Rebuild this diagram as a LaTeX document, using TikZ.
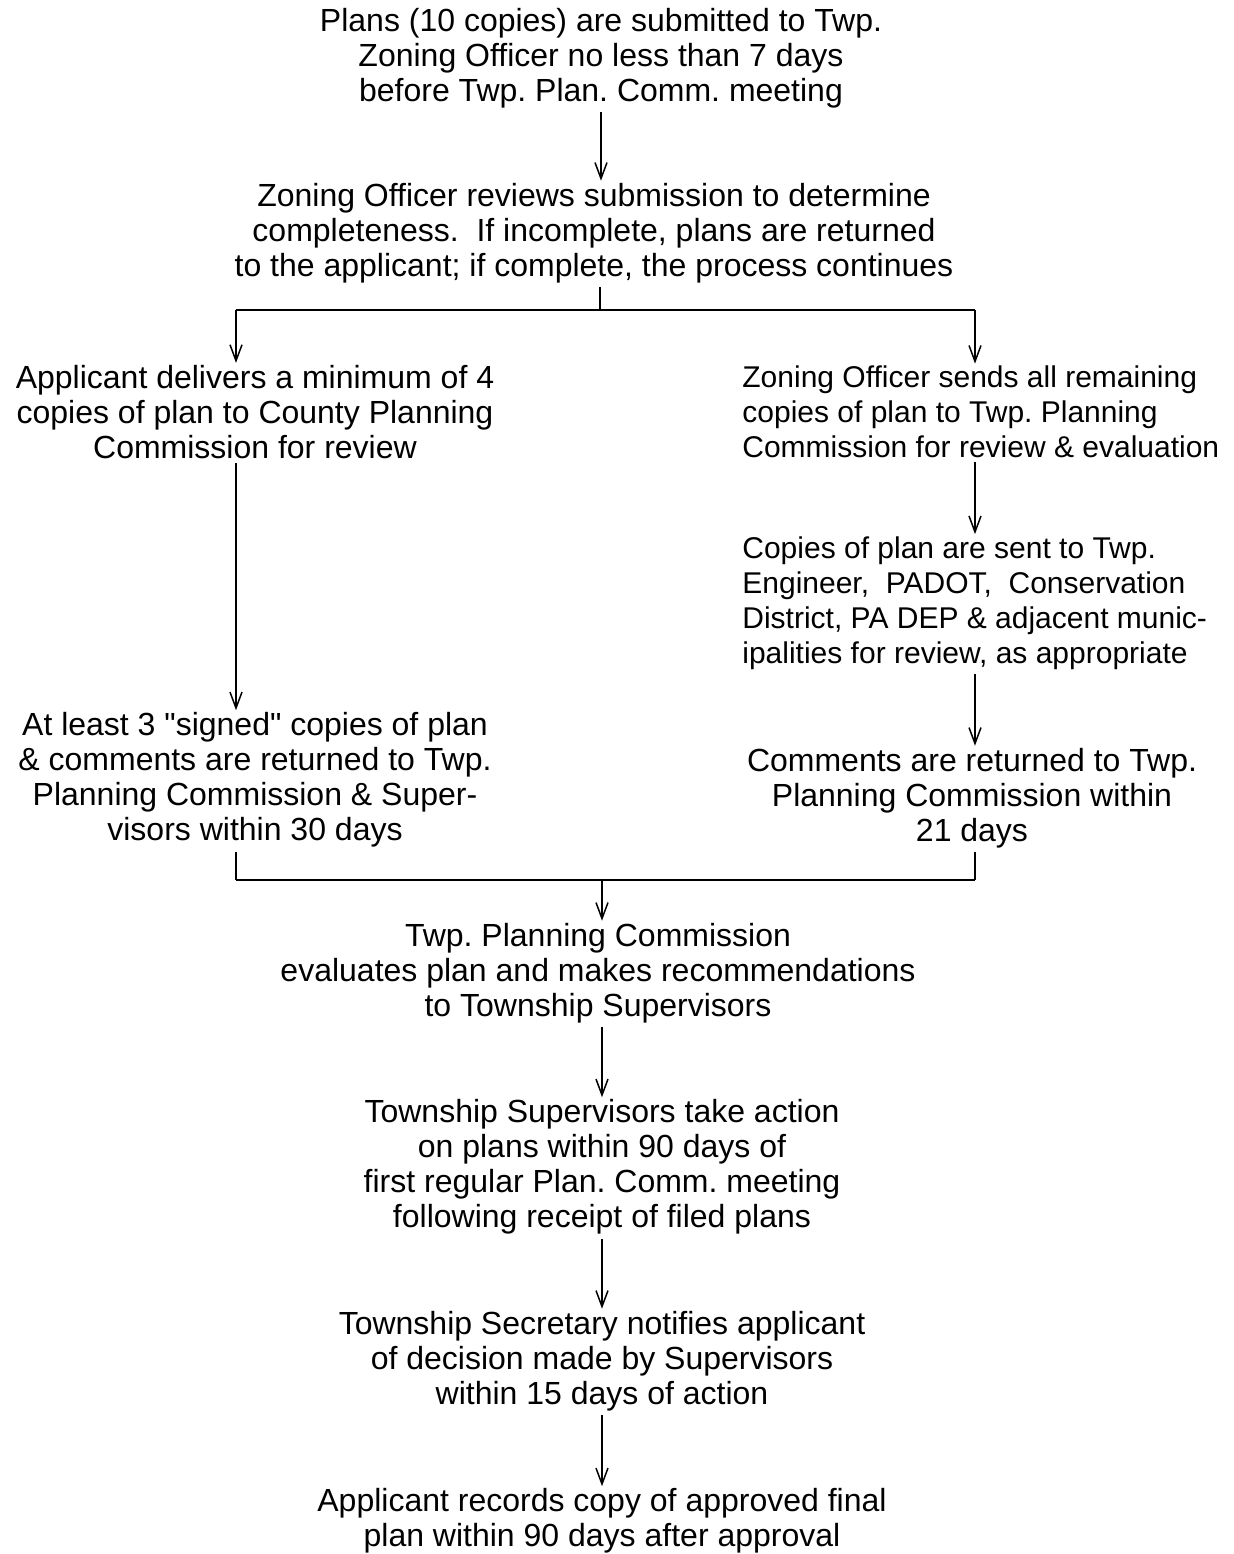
\documentclass[tikz,border=0pt]{standalone}
\usepackage{fontspec}
\setmainfont{Liberation Sans}
\newfontfamily\qfont{Liberation Sans}
\usetikzlibrary{arrows.meta}
\begin{document}
\begin{tikzpicture}[x=0.5pt,y=-0.5pt,
  txt/.style={inner sep=0pt,align=center,font=\fontsize{16}{17.5}\selectfont\frenchspacing},
  txtl/.style={inner sep=0pt,align=left,anchor=west,font=\fontsize{15}{17.5}\selectfont\frenchspacing},
  conn/.style={line width=0.75pt},
  arr/.style={conn,-{Straight Barb[length=8pt,width=6pt]},shorten <=2pt,shorten >=1pt}]
\useasboundingbox (0,0) rectangle (1234,1554);
\node[txt] (n1) at (601,58) {Plans (10 copies) are submitted to Twp.\\Zoning Officer no less than 7 days\\before Twp. Plan. Comm. meeting};
\node[txt] (n2) at (594,233) {Zoning Officer reviews submission to determine\\completeness.\ \ If incomplete, plans are returned\\to the applicant; if complete, the process continues};
\node[txt] (n3L) at (255,412) {Applicant delivers a minimum of 4\\copies of plan to County Planning\\Commission for review};
\node[txtl] (n3R) at (742,412) {Zoning Officer sends all remaining\\copies of plan to Twp. Planning\\Commission for review \& evaluation};
\node[txtl] (n4R) at (742,603) {Copies of plan are sent to Twp.\\Engineer,\ \ PADOT,\ \ Conservation\\District, PA DEP \& adjacent munic-\\ipalities for review, as appropriate};
\node[txt] (n5R) at (972,798) {Comments are returned to Twp.\\Planning Commission within\\21 days};
\node[txt] (n4L) at (255,780) {At least 3 {\qfont"}signed{\qfont"} copies of plan\\\& comments are returned to Twp.\\Planning Commission \& Super-\\visors within 30 days};
\node[txt] (n6) at (598,973) {Twp. Planning Commission\\evaluates plan and makes recommendations\\to Township Supervisors};
\node[txt] (n7) at (602,1167) {Township Supervisors take action\\on plans within 90 days of\\first regular Plan. Comm. meeting\\following receipt of filed plans};
\node[txt] (n8) at (602,1361) {Township Secretary notifies applicant\\of decision made by Supervisors\\within 15 days of action};
\node[txt] (n9) at (602,1521) {Applicant records copy of approved final\\plan within 90 days after approval};
\coordinate (split) at (600,310);
\coordinate (jl) at (236,310);
\coordinate (jr) at (975,310);
\coordinate (kl) at (236,880);
\coordinate (kr) at (975,880);
\coordinate (km) at (602,880);
\draw[arr] (n1.south) -- (n1.south |- n2.north);
\draw[conn,shorten <=2pt] (n2.south -| split) -- (split);
\draw[conn] (jl) -- (jr);
\draw[arr,shorten <=0pt] (jl) -- (jl |- n3L.north);
\draw[arr,shorten <=0pt] (jr) -- (jr |- n3R.north);
\draw[arr] (n3L.south -| jl) -- (jl |- n4L.north);
\draw[arr] (n3R.south -| jr) -- (jr |- n4R.north);
\draw[arr] (n4R.south -| jr) -- (jr |- n5R.north);
\draw[conn,shorten <=2pt] (n4L.south -| kl) -- (kl);
\draw[conn,shorten <=2pt] (n5R.south -| kr) -- (kr);
\draw[conn] (kl) -- (kr);
\draw[arr,shorten <=0pt] (km) -- (km |- n6.north);
\draw[arr] (n6.south -| km) -- (km |- n7.north);
\draw[arr] (n7.south) -- (n7.south |- n8.north);
\draw[arr] (n8.south) -- (n8.south |- n9.north);
\end{tikzpicture}
\end{document}
